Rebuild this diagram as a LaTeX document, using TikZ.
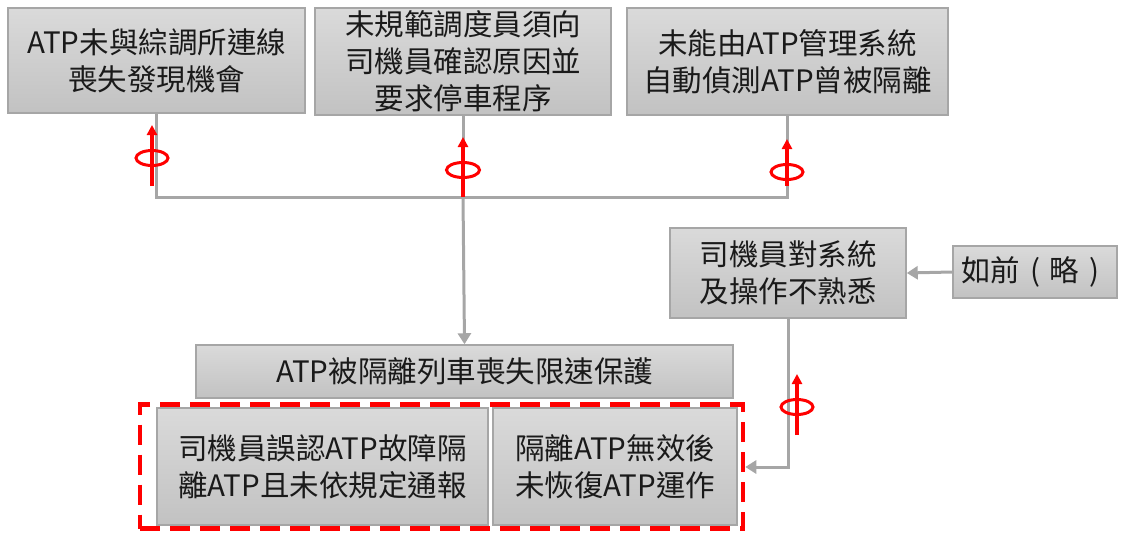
\documentclass[tikz,border=0pt]{standalone}
\usepackage{fontspec}
\setmainfont{Noto Sans CJK TC}
\usetikzlibrary{arrows.meta}
\definecolor{boxline}{HTML}{A6A6A6}
\definecolor{boxtop}{HTML}{DADADA}
\definecolor{boxbot}{HTML}{C2C2C2}
\definecolor{conncol}{HTML}{A6A6A6}
\definecolor{txt}{HTML}{1A1A1A}
\newcommand{\fwparen}[1]{\makebox[1em][c]{#1}}
\tikzset{
  box/.style={draw=boxline, line width=1.5pt, top color=boxtop, bottom color=boxbot,
    align=center, inner sep=0pt, text=txt,
    font=\fontsize{29.5pt}{37pt}\selectfont},
  conn/.style={draw=conncol, line width=3pt},
  connarrow/.style={conn, -{Triangle[length=11pt,width=13pt]}},
  barrierline/.style={draw=red, line width=3.2pt, -{Triangle[length=10pt,width=10pt]}},
  barrierring/.style={draw=red, line width=3pt},
  groupbox/.style={draw=red, line width=4.5pt, dash pattern=on 20pt off 10pt, inner sep=0pt}
}
\begin{document}
\begin{tikzpicture}[x=1pt,y=-1pt]
\useasboundingbox (0,0) rectangle (1124,535);
% top boxes
\node[box, minimum width=297pt, minimum height=105pt] (b1) at (156.5,60.5) {ATP未與綜調所連線\\喪失發現機會};
\node[box, minimum width=296pt, minimum height=107pt] (b2) at (463,61.5) {未規範調度員須向\\司機員確認原因並\\要求停車程序};
\node[box, minimum width=321pt, minimum height=107pt] (b3) at (787.5,61.5) {未能由ATP管理系統\\自動偵測ATP曾被隔離};
% right boxes
\node[box, minimum width=236pt, minimum height=90pt] (b4) at (788,273) {司機員對系統\\及操作不熟悉};
\node[box, minimum width=164pt, minimum height=52pt] (b5) at (1035,272) {如前\fwparen{(}略\fwparen{)}};
% middle box
\node[box, minimum width=537pt, minimum height=53pt] (b6) at (464.5,371.5) {ATP被隔離列車喪失限速保護};
% dashed group
\node[groupbox, minimum width=603pt, minimum height=124pt] (grp) at (441.5,466.5) {};
\node[box, minimum width=331pt, minimum height=117pt] (b7) at (322.5,466.5) {司機員誤認ATP故障隔\\離ATP且未依規定通報};
\node[box, minimum width=244pt, minimum height=117pt] (b8) at (615,466.5) {隔離ATP無效後\\未恢復ATP運作};
% connectors
\coordinate (j) at (463,197);
\coordinate (jl) at (b1.south |- j);
\coordinate (jr) at (b3.south |- j);
\draw[conn] (b1.south) -- (jl) -- (jr) -- (b3.south);
\draw[conn] (b2.south) -- (j);
\draw[connarrow] (j) -- (b6.north);
\draw[connarrow] (b5.west) -- (b4.east);
\coordinate (k) at (788,467);
\draw[connarrow] (b4.south) -- (k) -- (grp.east |- k);
% barriers
\coordinate (r1a) at (152,186); \coordinate (r1b) at (152,125);
\draw[barrierline] (r1a) -- (r1b);
\draw[barrierring] (152,158) ellipse (16pt and 7.5pt);
\coordinate (r2a) at (463,197); \coordinate (r2b) at (463,137);
\draw[barrierline] (r2a) -- (r2b);
\draw[barrierring] (463,170) ellipse (16.5pt and 7.5pt);
\coordinate (r3a) at (787,186); \coordinate (r3b) at (787,139);
\draw[barrierline] (r3a) -- (r3b);
\draw[barrierring] (787,172) ellipse (16pt and 7.5pt);
\coordinate (r4a) at (797,435); \coordinate (r4b) at (797,374);
\draw[barrierline] (r4a) -- (r4b);
\draw[barrierring] (797,407) ellipse (16pt and 7.5pt);
\end{tikzpicture}
\end{document}
